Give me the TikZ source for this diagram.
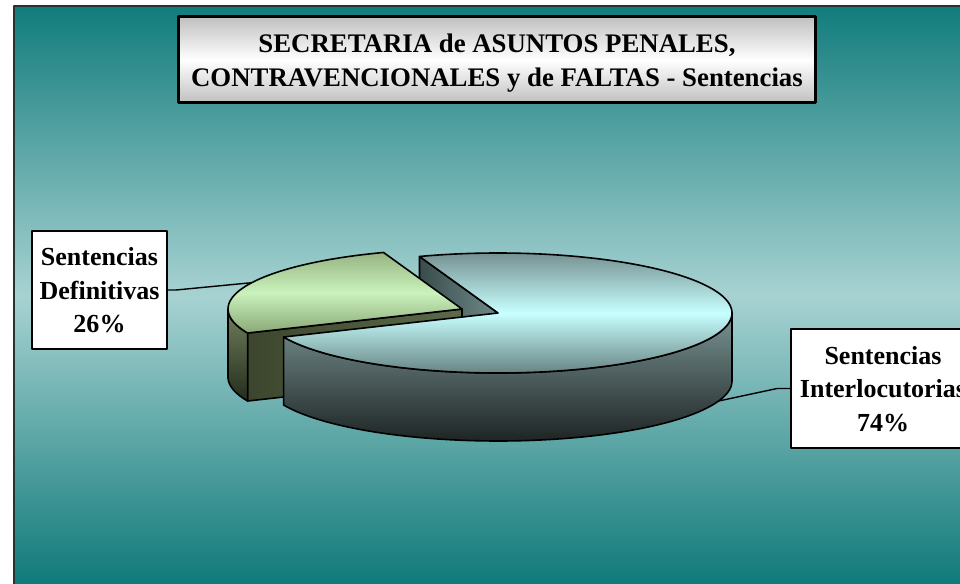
\documentclass[tikz,border=0pt]{standalone}
\usepackage{fontspec}
\setmainfont{Liberation Serif}
\newcommand\labfont{\fontsize{26bp}{33.5bp}\selectfont\bfseries}
\newcommand\ttlfont{\fontsize{26.8bp}{34bp}\selectfont\bfseries}
\definecolor{tealA}{RGB}{18,124,124}
\definecolor{tealM}{RGB}{168,210,210}
\definecolor{tealB}{RGB}{15,121,121}
\definecolor{frame}{RGB}{40,50,50}
\definecolor{mTopE}{RGB}{118,146,146}
\definecolor{mTopM}{RGB}{200,255,255}
\definecolor{mTopF}{RGB}{104,132,132}
\definecolor{mRimT}{RGB}{122,148,148}
\definecolor{mRimB}{RGB}{30,36,36}
\definecolor{cutL}{RGB}{58,76,76}
\definecolor{cutR}{RGB}{112,138,138}
\definecolor{gTopE}{RGB}{150,180,130}
\definecolor{gTopM}{RGB}{202,242,188}
\definecolor{gTopF}{RGB}{138,168,118}
\definecolor{gRimT}{RGB}{112,128,92}
\definecolor{gRimB}{RGB}{36,44,28}
\definecolor{gCutL}{RGB}{60,70,46}
\definecolor{gCutR}{RGB}{92,106,74}
\definecolor{titleG}{RGB}{192,192,192}
\begin{document}
\begin{tikzpicture}[x=1bp,y=-1bp,line join=round,
  edge/.style={draw=black,line width=1.6bp},
  lbl/.style={draw=black,line width=2bp,fill=white,inner sep=0pt,align=center,font=\labfont,text depth=0pt},
  ttl/.style={draw=black,line width=3bp,top color=titleG,bottom color=titleG,middle color=white,inner sep=0pt,align=center,font=\ttlfont,text depth=0pt},
  conn/.style={draw=black,line width=1.4bp}]
\useasboundingbox (0,0) rectangle (960,584);
\fill[white] (0,0) rectangle (960,584);
% background
\shade[top color=tealA,bottom color=tealM] (14,6) rectangle (962,296);
\shade[top color=tealM,bottom color=tealB] (14,295) rectangle (962,586);
\draw[line width=2bp,draw=frame] (14,590) -- (14,6) -- (966,6);
% geometry
\def\cx{498}\def\cy{313}\def\rx{234}\def\ry{60}\def\dd{68}
\def\gx{462}\def\gy{309}\def\aA{109.6}\def\aB{203.6}
% main slice cut face (back edge)
\shadedraw[left color=cutL,right color=cutR,edge] (\cx,\cy) -- ({\cx+\rx*cos(\aA)},{\cy-\ry*sin(\aA)}) -- ({\cx+\rx*cos(\aA)},{\cy+\dd-\ry*sin(\aA)}) -- (\cx,\cy+\dd) -- cycle;
% green slice: front cut face
\shadedraw[left color=gCutL,right color=gCutR,edge] (\gx,\gy) -- ({\gx+\rx*cos(\aB)},{\gy-\ry*sin(\aB)}) -- ({\gx+\rx*cos(\aB)},{\gy+\dd-\ry*sin(\aB)}) -- (\gx,\gy+\dd) -- cycle;
% green slice: rim
\shadedraw[top color=gRimT,bottom color=gRimB,edge] plot[domain=180:\aB,samples=30] ({\gx+\rx*cos(\x)},{\gy-\ry*sin(\x)}) -- plot[domain=\aB:180,samples=30] ({\gx+\rx*cos(\x)},{\gy+\dd-\ry*sin(\x)}) -- cycle;
% green slice: top
\shadedraw[top color=gTopE,bottom color=gTopF,middle color=gTopM,edge] (\gx,\gy) -- plot[domain=\aA:\aB,samples=50] ({\gx+\rx*cos(\x)},{\gy-\ry*sin(\x)}) -- cycle;
% main slice: rim
\shadedraw[top color=mRimT,bottom color=mRimB,edge] plot[domain=\aB:360,samples=90] ({\cx+\rx*cos(\x)},{\cy-\ry*sin(\x)}) -- plot[domain=360:\aB,samples=90] ({\cx+\rx*cos(\x)},{\cy+\dd-\ry*sin(\x)}) -- cycle;
% main slice: top
\shadedraw[top color=mTopE,bottom color=mTopF,middle color=mTopM,edge] (\cx,\cy) -- plot[domain=-156.4:109.6,samples=150] ({\cx+\rx*cos(\x)},{\cy-\ry*sin(\x)}) -- cycle;
% anchor points of the connectors
\coordinate (gpt) at ({\gx+\rx*cos(154)},{\gy-\ry*sin(154)});
\coordinate (mpt) at ({\cx+\rx*cos(-19.5)},{\cy+\dd-\ry*sin(-19.5)});
% labels
\node[lbl,minimum width=135bp,minimum height=118bp] (lab26) at (99.5,290) {Sentencias\\Definitivas\\26\%};
\node[lbl,minimum width=184bp,minimum height=119bp] (lab74) at (883,388.5) {Sentencias\\Interlocutorias\\74\%};
\draw[conn] (lab26.east) -- ++(8,0) -- (gpt);
\draw[conn] (lab74.west) -- ++(-13,0) -- (mpt);
% title
\node[ttl,minimum width=636bp,minimum height=86bp] (title) at (497,60) {SECRETARIA de ASUNTOS PENALES,\\CONTRAVENCIONALES y de FALTAS - Sentencias};
\end{tikzpicture}
\end{document}
